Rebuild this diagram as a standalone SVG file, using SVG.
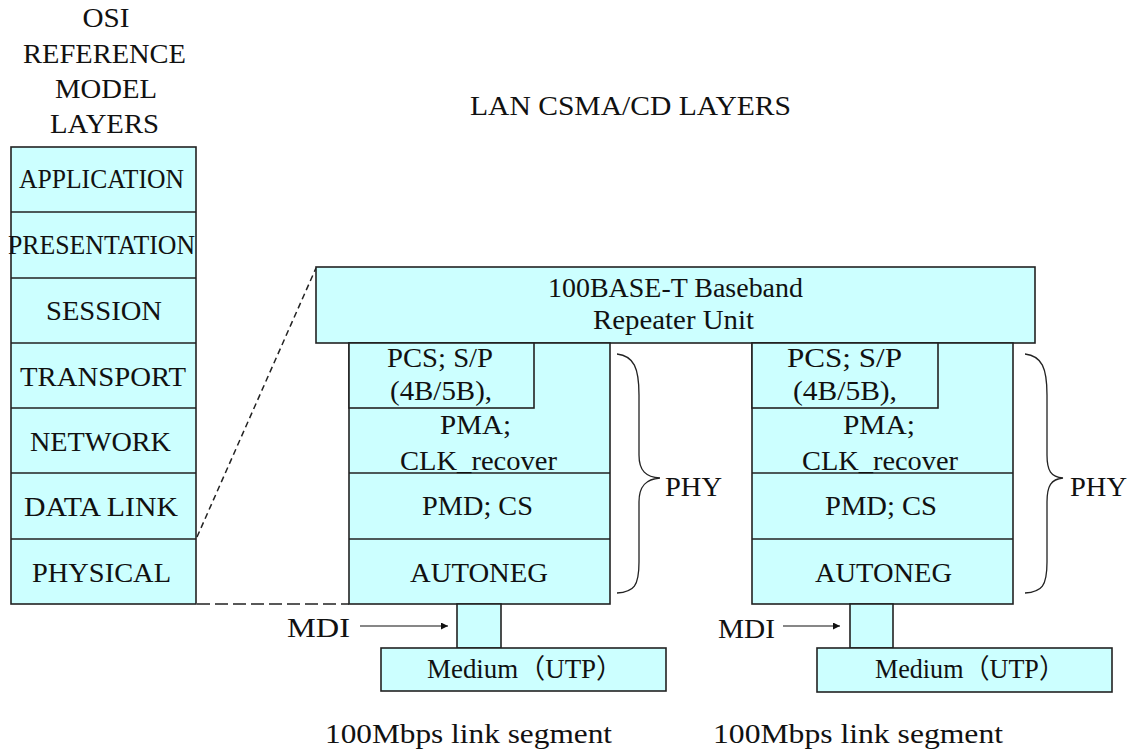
<svg xmlns="http://www.w3.org/2000/svg" width="1136" height="751" viewBox="0 0 1136 751">
<defs>
<style>
.box{fill:#ccffff;stroke:#222;stroke-width:1.6}
.ln{stroke:#222;stroke-width:1.6;fill:none}
.t{font-family:"Liberation Serif","Noto Sans CJK JP",serif;font-size:27px;fill:#111;text-anchor:middle}
.tl{font-family:"Liberation Serif","Noto Sans CJK JP",serif;font-size:27px;fill:#111}
.dash1{stroke:#222;stroke-width:1.5;stroke-dasharray:6 4;fill:none}
.dash2{stroke:#222;stroke-width:1.5;stroke-dasharray:13 5;fill:none}
.br{stroke:#222;stroke-width:1.3;fill:none}
.arr{stroke:#111;stroke-width:1.2;fill:none}
</style>
<marker id="ah" viewBox="0 0 10 10" refX="10" refY="5" markerWidth="9" markerHeight="7" markerUnits="userSpaceOnUse" orient="auto">
<path d="M0,0 L10,5 L0,10 Z" fill="#111"/>
</marker>
</defs>
<rect width="1136" height="751" fill="#ffffff"/>

<g id="titles">
<text class="t" x="106" y="27" textLength="47" lengthAdjust="spacingAndGlyphs">OSI</text>
<text class="t" x="104.5" y="63" textLength="163" lengthAdjust="spacingAndGlyphs">REFERENCE</text>
<text class="t" x="106" y="98" textLength="102" lengthAdjust="spacingAndGlyphs">MODEL</text>
<text class="t" x="104.5" y="133" textLength="109" lengthAdjust="spacingAndGlyphs">LAYERS</text>
<text class="tl" x="470" y="115" textLength="321" lengthAdjust="spacingAndGlyphs">LAN  CSMA/CD LAYERS</text>
</g>

<g id="osi">
<rect class="box" x="11" y="147" width="185" height="457"/>
<line class="ln" x1="11" y1="212" x2="196" y2="212"/>
<line class="ln" x1="11" y1="278" x2="196" y2="278"/>
<line class="ln" x1="11" y1="343" x2="196" y2="343"/>
<line class="ln" x1="11" y1="408" x2="196" y2="408"/>
<line class="ln" x1="11" y1="473" x2="196" y2="473"/>
<line class="ln" x1="11" y1="539" x2="196" y2="539"/>
<text class="t" x="101.5" y="188" textLength="165" lengthAdjust="spacingAndGlyphs">APPLICATION</text>
<text class="t" x="101.5" y="254" textLength="187" lengthAdjust="spacingAndGlyphs">PRESENTATION</text>
<text class="t" x="104" y="320" textLength="116" lengthAdjust="spacingAndGlyphs">SESSION</text>
<text class="t" x="103" y="386" textLength="166" lengthAdjust="spacingAndGlyphs">TRANSPORT</text>
<text class="t" x="100.5" y="451" textLength="141" lengthAdjust="spacingAndGlyphs">NETWORK</text>
<text class="t" x="101" y="516" textLength="154" lengthAdjust="spacingAndGlyphs">DATA LINK</text>
<text class="t" x="101.5" y="582" textLength="139" lengthAdjust="spacingAndGlyphs">PHYSICAL</text>
</g>

<g id="connectors">
<line class="dash1" x1="197" y1="537" x2="316" y2="268"/>
<line class="dash2" x1="197" y1="604" x2="349" y2="604"/>
<line class="arr" x1="360" y1="626" x2="448" y2="626" marker-end="url(#ah)"/>
<line class="arr" x1="783" y1="626" x2="840" y2="626" marker-end="url(#ah)"/>
</g>

<g id="repeater">
<rect class="box" x="316" y="267" width="719" height="76"/>
<text class="t" x="675.5" y="297" textLength="255" lengthAdjust="spacingAndGlyphs">100BASE-T Baseband</text>
<text class="t" x="673.5" y="329" textLength="161" lengthAdjust="spacingAndGlyphs">Repeater Unit</text>
</g>

<g id="phy1">
<rect class="box" x="349" y="343" width="261" height="261"/>
<rect class="box" x="349" y="343" width="185" height="65"/>
<line class="ln" x1="349" y1="473" x2="610" y2="473"/>
<line class="ln" x1="349" y1="539" x2="610" y2="539"/>
<text class="t" x="440" y="367" textLength="106" lengthAdjust="spacingAndGlyphs">PCS; S/P</text>
<text class="t" x="441" y="400" textLength="102" lengthAdjust="spacingAndGlyphs">(4B/5B),</text>
<text class="t" x="475.5" y="434" textLength="71" lengthAdjust="spacingAndGlyphs">PMA;</text>
<text class="t" x="478.5" y="470" textLength="157" lengthAdjust="spacingAndGlyphs">CLK_recover</text>
<text class="t" x="477.5" y="515" textLength="111" lengthAdjust="spacingAndGlyphs">PMD; CS</text>
<text class="t" x="479" y="582" textLength="138" lengthAdjust="spacingAndGlyphs">AUTONEG</text>
<path class="br" d="M617,354 C634,356 639,368 639,395 L639,455 C639,471 646,477 660,478 C646,479 639,486 639,502 L639,562 C639,586 634,592 617,593"/>
<text class="tl" x="665" y="496" textLength="57" lengthAdjust="spacingAndGlyphs">PHY</text>
</g>

<g id="phy2">
<rect class="box" x="752" y="343" width="261" height="261"/>
<rect class="box" x="752" y="343" width="186" height="65"/>
<line class="ln" x1="752" y1="473" x2="1013" y2="473"/>
<line class="ln" x1="752" y1="539" x2="1013" y2="539"/>
<text class="t" x="844.5" y="367" textLength="115" lengthAdjust="spacingAndGlyphs">PCS; S/P</text>
<text class="t" x="845" y="400" textLength="104" lengthAdjust="spacingAndGlyphs">(4B/5B),</text>
<text class="t" x="879" y="434" textLength="72" lengthAdjust="spacingAndGlyphs">PMA;</text>
<text class="t" x="880" y="470" textLength="156" lengthAdjust="spacingAndGlyphs">CLK_recover</text>
<text class="t" x="881" y="515" textLength="112" lengthAdjust="spacingAndGlyphs">PMD; CS</text>
<text class="t" x="883.5" y="582" textLength="137" lengthAdjust="spacingAndGlyphs">AUTONEG</text>
<path class="br" d="M1025,354 C1042,356 1047,368 1047,395 L1047,455 C1047,471 1051,477 1063,478 C1051,479 1047,486 1047,502 L1047,562 C1047,586 1042,592 1025,593"/>
<text class="tl" x="1070" y="496" textLength="57" lengthAdjust="spacingAndGlyphs">PHY</text>
</g>

<g id="mdi1">
<rect class="box" x="457" y="604" width="44" height="44"/>
<text class="tl" x="287" y="637" textLength="63" lengthAdjust="spacingAndGlyphs">MDI</text>
</g>

<g id="medium1">
<rect class="box" x="381" y="648" width="285" height="43"/>
<text class="tl" x="427" y="678" textLength="196" lengthAdjust="spacingAndGlyphs">Medium（UTP）</text>
</g>

<g id="mdi2">
<rect class="box" x="850" y="604" width="43" height="44"/>
<text class="tl" x="718" y="638" textLength="57" lengthAdjust="spacingAndGlyphs">MDI</text>
</g>

<g id="medium2">
<rect class="box" x="817" y="648" width="295" height="44"/>
<text class="tl" x="875" y="678" textLength="190" lengthAdjust="spacingAndGlyphs">Medium（UTP）</text>
</g>

<g id="labels">
<text class="tl" x="325" y="743" textLength="287" lengthAdjust="spacingAndGlyphs">100Mbps link segment</text>
<text class="tl" x="713" y="743" textLength="290" lengthAdjust="spacingAndGlyphs">100Mbps link segment</text>
</g>
</svg>
